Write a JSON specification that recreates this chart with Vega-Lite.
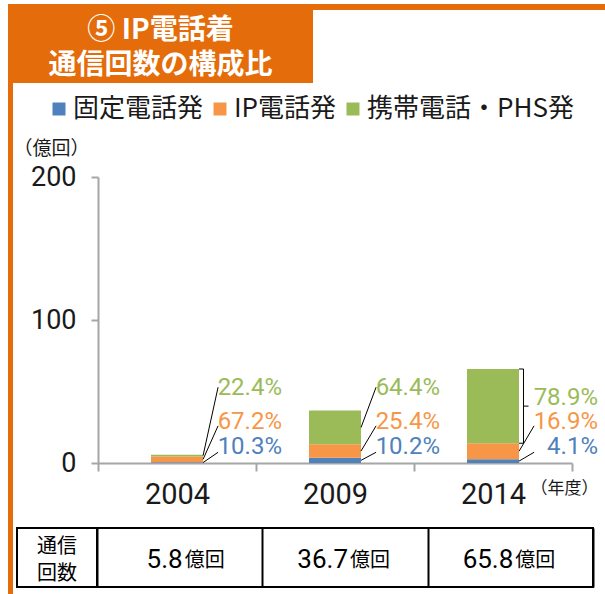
{
  "$schema": "https://vega.github.io/schema/vega-lite/v6.json",
  "padding": {"left": 8, "top": 4, "right": 0, "bottom": 0},
  "autosize": {"type": "pad"},
  "background": "white",
  "config": {"view": {"stroke": null}, "font": "Noto Sans CJK JP"},
  "datasets": {
    "shares": [
      {"year": "2004", "series": "固定電話発", "value": 0.60, "share": 0.103},
      {"year": "2004", "series": "IP電話発", "value": 3.90, "share": 0.672},
      {"year": "2004", "series": "携帯電話・PHS発", "value": 1.30, "share": 0.224},
      {"year": "2009", "series": "固定電話発", "value": 3.74, "share": 0.102},
      {"year": "2009", "series": "IP電話発", "value": 9.32, "share": 0.254},
      {"year": "2009", "series": "携帯電話・PHS発", "value": 23.64, "share": 0.644},
      {"year": "2014", "series": "固定電話発", "value": 2.70, "share": 0.041},
      {"year": "2014", "series": "IP電話発", "value": 11.12, "share": 0.169},
      {"year": "2014", "series": "携帯電話・PHS発", "value": 51.92, "share": 0.789}
    ],
    "totals": [
      {"year": "2004", "total": 5.8},
      {"year": "2009", "total": 36.7},
      {"year": "2014", "total": 65.8}
    ]
  },
  "bounds": "full",
  "spacing": 0,
  "vconcat": [
    {
      "bounds": "flush",
      "spacing": 0,
      "hconcat": [
        {
          "width": 305, "height": 79,
          "view": {"fill": "#E46C0A", "stroke": null},
          "data": {"values": [{"line": "⑤ IP電話着"}, {"line": "通信回数の構成比"}]},
          "mark": {"type": "text", "color": "white", "fontSize": 28, "fontWeight": "bold", "font": "Noto Sans CJK JP", "baseline": "middle", "dy": 5},
          "encoding": {
            "y": {"field": "line", "type": "nominal", "sort": null, "scale": {"type": "point", "padding": 0.6}, "axis": null},
            "text": {"field": "line"}
          }
        },
        {
          "width": 292, "height": 6,
          "view": {"fill": "#E46C0A", "stroke": null},
          "data": {"values": [{}]},
          "mark": {"type": "rect", "color": "#E46C0A"},
          "encoding": {}
        }
      ]
    },
    {
      "bounds": "flush",
      "spacing": 4,
      "hconcat": [
        {
          "width": 5, "height": 511,
          "view": {"fill": "#E46C0A", "stroke": null},
          "data": {"values": [{}]},
          "mark": {"type": "rect", "color": "#E46C0A"},
          "encoding": {}
        },
        {
          "bounds": "flush",
          "spacing": 65,
          "vconcat": [
            {
              "width": 555, "height": 380,
              "data": {"name": "shares"},
              "layer": [
                {
                  "transform": [{"stack": "value", "groupby": ["year"], "as": ["y0", "y1"]}],
                  "mark": {"type": "bar", "size": 52},
                  "encoding": {
                    "x": {
                      "field": "year", "type": "ordinal",
                      "scale": {"type": "band", "range": [81, 555], "paddingInner": 0, "paddingOuter": 0},
                      "axis": {
                        "title": "（年度）", "titleFont": "Noto Sans CJK JP", "titleFontSize": 17, "titleFontWeight": "normal", "titleColor": "#1a1a1a",
                        "titleX": 513, "titleY": 25, "titleAlign": "left", "titleBaseline": "middle",
                        "labelAngle": 0, "labelFont": "Roboto", "labelFontSize": 29, "labelColor": "#1a1a1a", "labelPadding": 9,
                        "tickBand": "extent", "tickSize": 8, "tickColor": "#A6A6A6", "tickWidth": 2,
                        "domainColor": "#A6A6A6", "domainWidth": 2, "grid": false
                      }
                    },
                    "y": {
                      "field": "y1", "type": "quantitative",
                      "scale": {"domain": [0, 200], "range": [380, 94], "nice": false},
                      "axis": {
                        "values": [0, 100, 200], "offset": -81,
                        "title": "（億回）", "titleAngle": 0, "titleX": -85, "titleY": 65, "titleAlign": "left", "titleBaseline": "middle",
                        "titleFont": "Noto Sans CJK JP", "titleFontSize": 19, "titleFontWeight": "normal", "titleColor": "#1a1a1a",
                        "labelFont": "Roboto", "labelFontSize": 27, "labelColor": "#1a1a1a", "labelPadding": 15,
                        "tickSize": 7, "tickColor": "#A6A6A6", "tickWidth": 2,
                        "domainColor": "#A6A6A6", "domainWidth": 2, "grid": false
                      }
                    },
                    "y2": {"field": "y0"},
                    "color": {
                      "field": "series", "type": "nominal",
                      "scale": {"domain": ["固定電話発", "IP電話発", "携帯電話・PHS発"], "range": ["#4F81BD", "#F79646", "#9BBB59"]},
                      "legend": {
                        "orient": "none", "legendX": 38, "legendY": 92, "direction": "horizontal", "title": null,
                        "symbolType": "square", "symbolSize": 169, "symbolStrokeWidth": 0,
                        "labelFont": "Noto Sans CJK JP", "labelFontSize": 26, "labelColor": "#1a1a1a", "labelLimit": 400,
                        "labelOffset": 1, "columnPadding": 3, "padding": 0
                      }
                    }
                  }
                },
                {
                  "transform": [
                    {"stack": "value", "groupby": ["year"], "as": ["y0", "y1"]},
                    {"fold": ["y0", "y1"], "as": ["edge", "pos"]},
                    {"aggregate": [{"op": "mean", "field": "pos", "as": "mid"}], "groupby": ["year", "series"]}
                  ],
                  "layer": [
                    {
                      "transform": [{"filter": "datum.series === '携帯電話・PHS発' && datum.year !== '2014'"}],
                      "mark": {"type": "rule", "color": "black", "strokeWidth": 1},
                      "encoding": {
                        "x": {"field": "year", "type": "ordinal", "bandPosition": 0.665},
                        "x2": {"field": "year", "bandPosition": 0.76},
                        "y": {"field": "mid", "type": "quantitative"},
                        "y2": {"datum": 53}
                      }
                    },
                    {
                      "transform": [{"filter": "datum.series === 'IP電話発'"}],
                      "mark": {"type": "rule", "color": "black", "strokeWidth": 1},
                      "encoding": {
                        "x": {"field": "year", "type": "ordinal", "bandPosition": 0.665},
                        "x2": {"field": "year", "bandPosition": 0.76},
                        "y": {"field": "mid", "type": "quantitative"},
                        "y2": {"datum": 26}
                      }
                    },
                    {
                      "transform": [{"filter": "datum.series === '固定電話発'"}],
                      "mark": {"type": "rule", "color": "black", "strokeWidth": 1},
                      "encoding": {
                        "x": {"field": "year", "type": "ordinal", "bandPosition": 0.665},
                        "x2": {"field": "year", "bandPosition": 0.76},
                        "y": {"field": "mid", "type": "quantitative"},
                        "y2": {"datum": 7.5}
                      }
                    }
                  ]
                },
                {
                  "transform": [{"filter": "datum.series === '携帯電話・PHS発' && datum.year !== '2014'"}],
                  "mark": {"type": "text", "align": "right", "baseline": "middle", "dx": 26, "font": "Roboto", "fontSize": 24, "color": "#9BBB59"},
                  "encoding": {
                    "x": {"field": "year", "type": "ordinal", "bandPosition": 1},
                    "y": {"datum": 52.4},
                    "text": {"field": "share", "type": "quantitative", "format": ".1%"}
                  }
                },
                {
                  "transform": [{"filter": "datum.series === 'IP電話発'"}],
                  "mark": {"type": "text", "align": "right", "baseline": "middle", "dx": 26, "font": "Roboto", "fontSize": 24, "color": "#F79646"},
                  "encoding": {
                    "x": {"field": "year", "type": "ordinal", "bandPosition": 1},
                    "y": {"datum": 28.7},
                    "text": {"field": "share", "type": "quantitative", "format": ".1%"}
                  }
                },
                {
                  "transform": [{"filter": "datum.series === '固定電話発'"}],
                  "mark": {"type": "text", "align": "right", "baseline": "middle", "dx": 26, "font": "Roboto", "fontSize": 24, "color": "#4F81BD"},
                  "encoding": {
                    "x": {"field": "year", "type": "ordinal", "bandPosition": 1},
                    "y": {"datum": 11.2},
                    "text": {"field": "share", "type": "quantitative", "format": ".1%"}
                  }
                },
                {
                  "transform": [
                    {"stack": "value", "groupby": ["year"], "as": ["y0", "y1"]},
                    {"filter": "datum.year === '2014' && datum.series === '携帯電話・PHS発'"}
                  ],
                  "layer": [
                    {
                      "mark": {"type": "rule", "color": "black", "strokeWidth": 1},
                      "encoding": {
                        "x": {"field": "year", "type": "ordinal", "bandPosition": 0.693},
                        "y": {"field": "y1", "type": "quantitative"},
                        "y2": {"field": "y0"}
                      }
                    },
                    {
                      "mark": {"type": "rule", "color": "black", "strokeWidth": 1},
                      "encoding": {
                        "x": {"field": "year", "type": "ordinal", "bandPosition": 0.665},
                        "x2": {"field": "year", "bandPosition": 0.693},
                        "y": {"field": "y1", "type": "quantitative"}
                      }
                    },
                    {
                      "mark": {"type": "rule", "color": "black", "strokeWidth": 1},
                      "encoding": {
                        "x": {"field": "year", "type": "ordinal", "bandPosition": 0.665},
                        "x2": {"field": "year", "bandPosition": 0.693},
                        "y": {"field": "y0", "type": "quantitative"}
                      }
                    },
                    {
                      "transform": [
                        {"fold": ["y0", "y1"], "as": ["edge", "pos"]},
                        {"aggregate": [{"op": "mean", "field": "pos", "as": "mid"}], "groupby": ["year", "series"]}
                      ],
                      "mark": {"type": "rule", "color": "black", "strokeWidth": 1},
                      "encoding": {
                        "x": {"field": "year", "type": "ordinal", "bandPosition": 0.693},
                        "x2": {"field": "year", "bandPosition": 0.725},
                        "y": {"field": "mid", "type": "quantitative"}
                      }
                    },
                    {
                      "mark": {"type": "text", "align": "right", "baseline": "middle", "dx": 26, "font": "Roboto", "fontSize": 24, "color": "#9BBB59"},
                      "encoding": {
                        "x": {"field": "year", "type": "ordinal", "bandPosition": 1},
                        "y": {"datum": 45.5},
                        "text": {"field": "share", "type": "quantitative", "format": ".1%"}
                      }
                    }
                  ]
                }
              ]
            },
            {
              "bounds": "flush",
              "spacing": 0,
              "hconcat": [
                {
                  "width": 80, "height": 59,
                  "view": {"stroke": "black", "strokeWidth": 2},
                  "data": {"values": [{"line": "通信"}, {"line": "回数"}]},
                  "mark": {"type": "text", "fontSize": 20, "font": "Noto Sans CJK JP", "color": "black", "baseline": "middle", "dy": 3},
                  "encoding": {
                    "y": {"field": "line", "type": "nominal", "sort": null, "scale": {"type": "point", "padding": 0.6}, "axis": null},
                    "text": {"field": "line"}
                  }
                },
                {
                  "width": 496, "height": 59,
                  "view": {"stroke": "black", "strokeWidth": 2},
                  "data": {"name": "totals"},
                  "encoding": {
                    "x": {
                      "field": "year", "type": "ordinal",
                      "scale": {"paddingInner": 0, "paddingOuter": 0},
                      "axis": {"orient": "top", "grid": true, "gridColor": "black", "gridWidth": 2, "gridOpacity": 1, "tickBand": "extent", "labels": false, "ticks": false, "domain": false, "title": null}
                    }
                  },
                  "layer": [
                    {
                      "mark": {"type": "text", "align": "right", "baseline": "middle", "dx": 3, "dy": 2, "font": "Roboto", "fontSize": 26, "color": "black"},
                      "encoding": {"text": {"field": "total", "type": "quantitative", "format": ".1f"}}
                    },
                    {
                      "mark": {"type": "text", "align": "left", "baseline": "middle", "dx": 5, "dy": 3, "font": "Noto Sans CJK JP", "fontSize": 20, "color": "black", "text": "億回"}
                    }
                  ]
                }
              ]
            }
          ]
        }
      ]
    }
  ]
}
